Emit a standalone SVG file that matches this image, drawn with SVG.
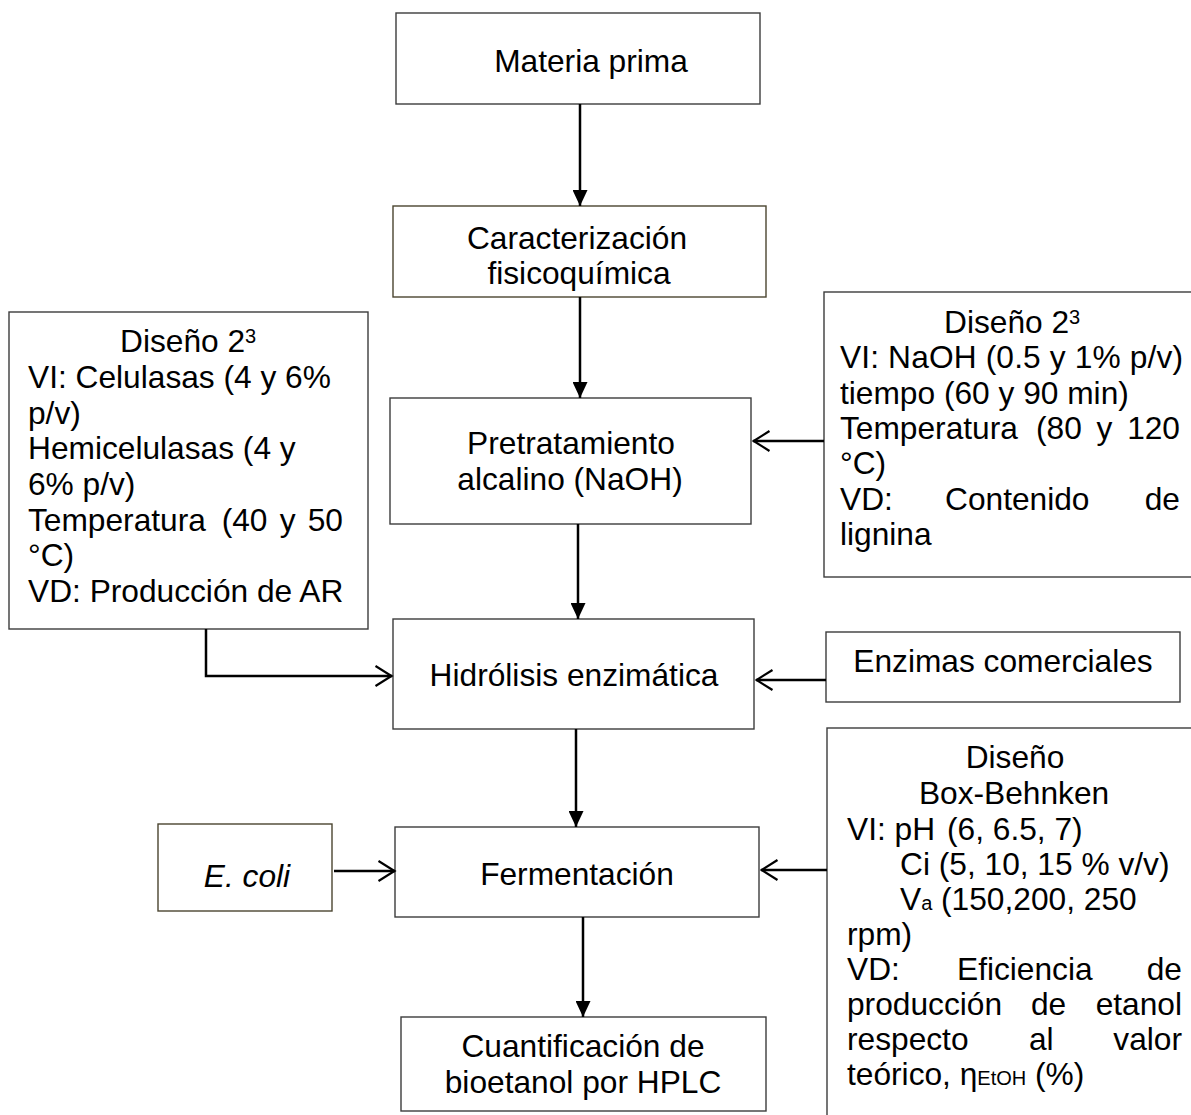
<svg xmlns="http://www.w3.org/2000/svg" width="1191" height="1115" viewBox="0 0 1191 1115">
<style>
.t{font-family:"Liberation Sans",Arial,sans-serif;font-size:31.7px;fill:#000}
.c{text-anchor:middle}
.e{text-anchor:end}
.i{font-style:italic}
.sm{font-size:20px}
.box{fill:#fff;stroke:#3c3c3c;stroke-width:1.4}
.ol{stroke:#4a4530}
.ln{stroke:#000;stroke-width:2.5;fill:none}
.fa{marker-end:url(#fa)}
.oa{marker-end:url(#oa)}
</style>
<defs>
<marker id="fa" markerUnits="userSpaceOnUse" viewBox="0 0 16 15" refX="16" refY="7.5" markerWidth="16" markerHeight="15" orient="auto"><path d="M0,0 L16,7.5 L0,15 z" fill="#000"/></marker>
<marker id="oa" markerUnits="userSpaceOnUse" viewBox="0 0 19 22" refX="17.5" refY="11" markerWidth="19" markerHeight="22" orient="auto"><path d="M1,1 L17,11 L1,21" fill="none" stroke="#000" stroke-width="2.2"/></marker>
</defs>
<rect width="1191" height="1115" fill="#fff"/>

<g id="materia-prima">
<rect class="box" x="396" y="13" width="364" height="91"/>
<text class="t c" x="591" y="72">Materia prima</text>
</g>

<g id="caracterizacion">
<rect class="box ol" x="393" y="206" width="373" height="91"/>
<text class="t c" x="577" y="249">Caracterización</text>
<text class="t c" x="579" y="284">fisicoquímica</text>
</g>

<g id="pretratamiento">
<rect class="box" x="390" y="398" width="361" height="126"/>
<text class="t c" x="571" y="454">Pretratamiento</text>
<text class="t c" x="570" y="490">alcalino (NaOH)</text>
</g>

<g id="hidrolisis">
<rect class="box" x="393" y="619" width="361" height="110"/>
<text class="t c" x="574" y="686">Hidrólisis enzimática</text>
</g>

<g id="fermentacion">
<rect class="box" x="395" y="827" width="364" height="90"/>
<text class="t c" x="577" y="885">Fermentación</text>
</g>

<g id="cuantificacion">
<rect class="box" x="401" y="1017" width="365" height="94"/>
<text class="t c" x="583" y="1057">Cuantificación de</text>
<text class="t c" x="583" y="1093">bioetanol por HPLC</text>
</g>

<g id="ecoli">
<rect class="box ol" x="158" y="824" width="174" height="87"/>
<text class="t c i" x="247" y="887">E. coli</text>
</g>

<g id="enzimas">
<rect class="box" x="826" y="632" width="354" height="70"/>
<text class="t c" x="1003" y="672">Enzimas comerciales</text>
</g>

<g id="diseno-hidrolisis">
<rect class="box" x="9" y="312" width="359" height="317"/>
<text class="t" x="120" y="352">Diseño 2<tspan class="sm" dy="-9">3</tspan></text>
<text class="t" x="28" y="388">VI: Celulasas (4 y 6%</text>
<text class="t" x="28" y="423.5">p/v)</text>
<text class="t" x="28" y="459">Hemicelulasas (4 y</text>
<text class="t" x="28" y="495">6% p/v)</text>
<text class="t" y="530.5"><tspan x="28">Temperatura</tspan><tspan x="221.7">(40</tspan><tspan x="279.7">y</tspan><tspan x="307.7">50</tspan></text>
<text class="t" x="28" y="566">°C)</text>
<text class="t" x="28" y="602">VD: Producción de AR</text>
</g>

<g id="diseno-pretratamiento">
<rect class="box" x="824" y="292" width="400" height="285"/>
<text class="t" x="944" y="333">Diseño 2<tspan class="sm" dy="-9">3</tspan></text>
<text class="t" x="840" y="368" textLength="343" lengthAdjust="spacing">VI: NaOH (0.5 y 1% p/v)</text>
<text class="t" x="840" y="403.5">tiempo (60 y 90 min)</text>
<text class="t" y="439"><tspan x="840">Temperatura</tspan><tspan x="1036">(80</tspan><tspan x="1096.5">y</tspan></text>
<text class="t e" x="1180" y="439">120</text>
<text class="t" x="840" y="474">°C)</text>
<text class="t" y="509.5"><tspan x="840">VD:</tspan><tspan x="945">Contenido</tspan></text>
<text class="t e" x="1180" y="509.5">de</text>
<text class="t" x="840" y="545">lignina</text>
</g>

<g id="diseno-fermentacion">
<rect class="box" x="827" y="728" width="400" height="420"/>
<text class="t c" x="1015" y="768">Diseño</text>
<text class="t c" x="1014" y="804">Box-Behnken</text>
<text class="t" y="840"><tspan x="847">VI: pH</tspan><tspan x="947">(6, 6.5, 7)</tspan></text>
<text class="t" x="900" y="875">Ci (5, 10, 15 % v/v)</text>
<text class="t" x="900" y="910">V<tspan class="sm">a</tspan> (150,200, 250</text>
<text class="t" x="847" y="945">rpm)</text>
<text class="t" y="980"><tspan x="847">VD:</tspan><tspan x="957">Eficiencia</tspan></text>
<text class="t e" x="1182" y="980">de</text>
<text class="t" y="1015"><tspan x="847">producción</tspan><tspan x="1031">de</tspan></text>
<text class="t e" x="1182" y="1015">etanol</text>
<text class="t" y="1050"><tspan x="847">respecto</tspan><tspan x="1029">al</tspan></text>
<text class="t e" x="1182" y="1050">valor</text>
<text class="t" x="847" y="1085">teórico, η<tspan class="sm">EtOH</tspan> (%)</text>
</g>

<g id="connectors">
<line class="ln fa" x1="580" y1="104" x2="580" y2="206"/>
<line class="ln fa" x1="580" y1="297" x2="580" y2="398"/>
<line class="ln fa" x1="578" y1="524" x2="578" y2="619"/>
<line class="ln fa" x1="576" y1="729" x2="576" y2="827"/>
<line class="ln fa" x1="583" y1="917" x2="583" y2="1017"/>
<line class="ln oa" x1="824" y1="441" x2="753" y2="441"/>
<line class="ln oa" x1="826" y1="680" x2="756" y2="680"/>
<path class="ln oa" d="M206,629 V676 H392"/>
<line class="ln oa" x1="334" y1="871" x2="395" y2="871"/>
<line class="ln oa" x1="827" y1="870" x2="761" y2="870"/>
</g>
</svg>
